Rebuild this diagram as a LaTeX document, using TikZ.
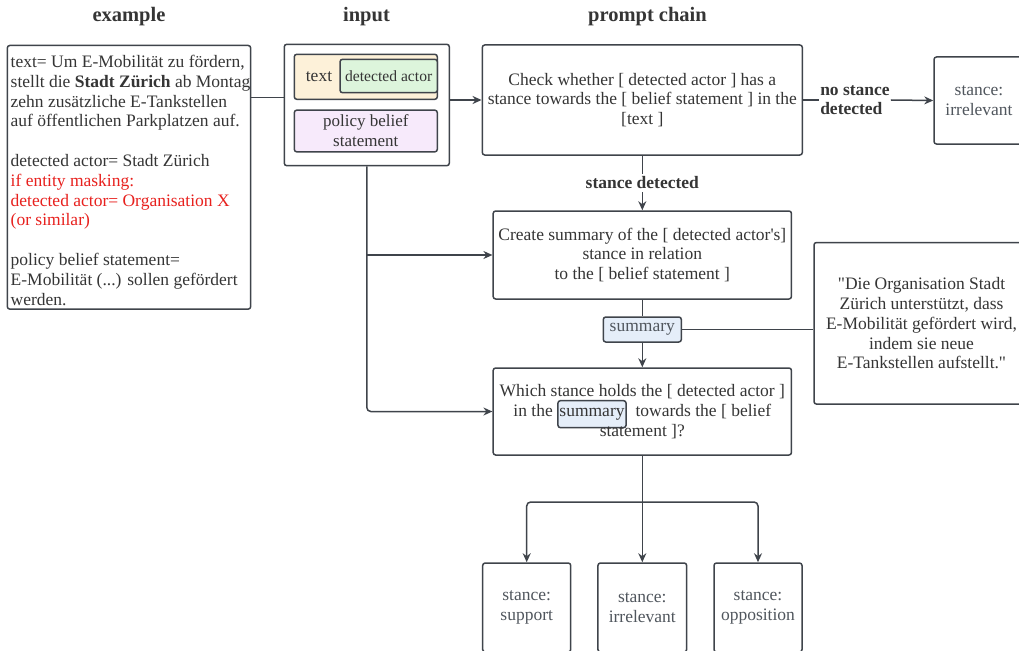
\documentclass[tikz,border=0pt]{standalone}
\usepackage{fontspec}
\setmainfont{Liberation Serif}[Ligatures=TeXOff]
\usetikzlibrary{arrows.meta}
\definecolor{lc}{HTML}{3F444B}
\definecolor{tc}{HTML}{353535}
\definecolor{gc}{HTML}{50565D}
\definecolor{redc}{HTML}{E8211E}
\definecolor{orf}{HTML}{FDF1D9}
\definecolor{grf}{HTML}{DDF5DC}
\definecolor{puf}{HTML}{F7EAFB}
\definecolor{suf}{HTML}{E5EEF9}
\newcommand{\bodyfont}{\fontsize{17.5}{19.8}\selectfont}
\begin{document}
\begin{tikzpicture}[x=1pt,y=-1pt,
  every node/.style={text=tc, font=\bodyfont},
  box/.style={draw=lc, line width=1.5pt, rounded corners=2.5pt, fill=white, align=center, inner sep=0pt},
  ln/.style={draw=lc, line width=1.5pt},
  arr/.style={draw=lc, line width=1.5pt, -{Stealth[length=9pt,width=8pt]}},
  ttl/.style={font=\fontsize{20.5}{22}\selectfont\bfseries},
  lab/.style={font=\fontsize{17.5}{19.5}\selectfont\bfseries, align=left, inner sep=1pt},
  hlbox/.style={draw=lc, line width=1.5pt, rounded corners=2.5pt, fill=suf, minimum width=0pt, minimum height=27pt, inner xsep=1.5pt, inner ysep=0pt}
]
\useasboundingbox (0,0) rectangle (1019,650);
\clip (0,0) rectangle (1019,650);
\fill[white] (0,0) rectangle (1019,650);

% titles
\node[ttl] (t1) at (129,17) {example};
\node[ttl] (t2) at (366.5,17) {input};
\node[ttl] (t3) at (647.5,17) {prompt chain};

% example
\node[box, minimum width=243.4pt, minimum height=263.6pt] (ex) at (129,177.3) {};
\node[anchor=north west, align=left, inner sep=0pt] (ext) at (10.5,55) {text= Um E-Mobilität zu fördern,\\
stellt die \textbf{Stadt Zürich} ab Montag\\
zehn zusätzliche E-Tankstellen\\
auf öffentlichen Parkplatzen auf.\\[19.8pt]
detected actor= Stadt Zürich\\
\textcolor{redc}{if entity masking:}\\
\textcolor{redc}{detected actor= Organisation X}\\
\textcolor{redc}{(or similar)}\\[19.8pt]
policy belief statement=\\
E-Mobilität (...) sollen gefördert\\
werden.};

% input
\node[box, minimum width=165pt, minimum height=121.4pt] (inp) at (366.8,105) {};
\node[box, fill=orf, minimum width=143pt, minimum height=45pt] (tb) at (365.8,76.8) {};
\node[inner sep=0pt] (tl) at (319,77) {text};
\node[box, fill=grf, minimum width=97.3pt, minimum height=33.4pt, font=\fontsize{15.6}{18}\selectfont] (da) at (388.7,76) {detected actor};
\node[box, fill=puf, minimum width=143pt, minimum height=41.7pt, font=\fontsize{17}{20}\selectfont] (pbs) at (365.8,131) {policy belief\\statement};

% prompt chain
\node[box, minimum width=320pt, minimum height=110pt] (chk) at (642.3,100) {Check whether [ detected actor ] has a\\ stance towards the [ belief statement ] in the\\ {[}text ]};
\node[lab] (ns) at (855,100) {no stance\\detected};
\node[box, minimum width=90pt, minimum height=87pt, text=gc] (irra) at (979,100.5) {stance:\\irrelevant};

\node[lab, inner sep=3pt] (sd) at (642.3,183) {stance detected};

\node[box, minimum width=298.3pt, minimum height=88pt] (cre) at (642.3,255) {Create summary of the [ detected actor's]\\ stance in relation\\ to the [ belief statement ]};

\node[box, fill=suf, minimum width=78pt, minimum height=25pt, text=gc] (sum) at (642.3,329.5) {summary};

\node[box, minimum width=298.3pt, minimum height=87pt] (wh) at (642.3,411.5) {Which stance holds the [ detected actor ]\\ in the \smash{\tikz[baseline=(hs.base)]\node[hlbox](hs){summary};}~ towards the [ belief\\ statement ]?};

\node[box, minimum width=215pt, minimum height=161.6pt] (quo) at (921.5,323.3) {"Die Organisation Stadt\\ Zürich unterstützt, dass\\ E-Mobilität gefördert wird,\\ indem sie neue\\ E-Tankstellen aufstellt."};

\node[box, minimum width=88pt, minimum height=89pt, text=gc] (sup) at (526.7,607.5) {stance:\\support};
\node[box, minimum width=88.7pt, minimum height=89pt, text=gc] (irrb) at (642.3,607.5) {stance:\\irrelevant};
\node[box, minimum width=88pt, minimum height=89pt, text=gc] (opp) at (758,607.5) {stance:\\opposition};

\coordinate (br) at (642.3,502);

% connectors
\draw[ln] (ex.east |- 0,97.7) -- (inp.west |- 0,97.7);
\draw[arr] (inp.east |- chk.west) -- (chk.west);
\draw[ln] (chk.east) -- (ns.west);
\draw[arr] (ns.east) -- (irra.west);
\draw[ln] (chk.south) -- (sd.north);
\draw[arr] (sd.south) -- (cre.north);
\draw[ln] (cre.south) -- (sum.north);
\draw[arr] (sum.south) -- (wh.north);
\draw[ln] (sum.east) -- (quo.west |- sum.east);
\draw[arr] (inp.south |- cre.west) -- (cre.west);
\draw[arr, rounded corners=4pt] (inp.south) |- (wh.west);
\draw[ln] (wh.south) -- (br);
\draw[arr, rounded corners=4pt] (br) -| (sup.north);
\draw[arr, rounded corners=4pt] (br) -| (opp.north);
\draw[arr] (br) -- (irrb.north);
\end{tikzpicture}
\end{document}
